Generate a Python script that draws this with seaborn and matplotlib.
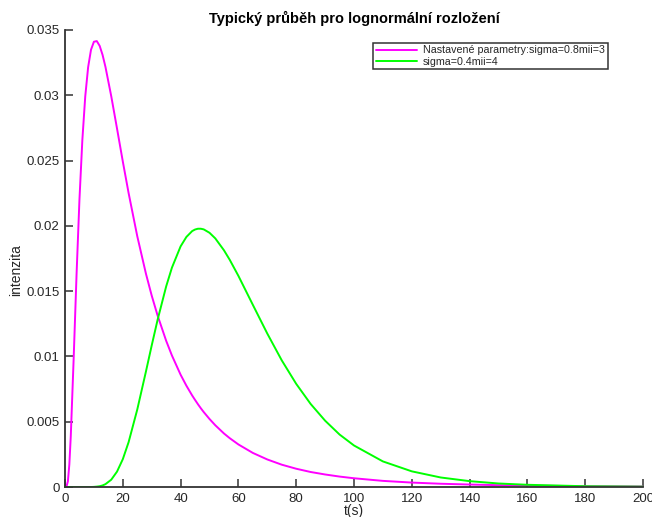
import matplotlib
matplotlib.use("Agg")
import matplotlib.pyplot as plt
import matplotlib.ticker as mticker
import seaborn as sns
import pandas as pd

# time axis (s)
t = [0, 0.5, 1, 1.5, 2, 3, 4, 5, 6, 7, 8, 9, 10, 11, 12, 13, 14, 16, 18, 20,
     22, 25, 28, 30, 32, 35, 37, 40, 42, 44, 45, 46, 47, 48, 50, 52, 55, 57, 60,
     65, 70, 75, 80, 85, 90, 95, 100, 110, 120, 130, 140, 150, 160, 180, 200]

# series 1: sigma=0.8, mii=3
intenzita_1 = [0, 0.0000235, 0.00044, 0.00173, 0.00390, 0.00986, 0.01630, 0.02202,
               0.02657, 0.02990, 0.03215, 0.03349, 0.03410, 0.03415, 0.03378, 0.03309,
               0.03217, 0.02993, 0.02745, 0.02493, 0.02252, 0.01921, 0.01634, 0.01466,
               0.01316, 0.01120, 0.01007, 0.00860, 0.00776, 0.00701, 0.00667, 0.00634,
               0.00603, 0.00574, 0.00521, 0.00473, 0.00410, 0.00374, 0.00326, 0.00261,
               0.00211, 0.00171, 0.00140, 0.00115, 0.00096, 0.00080, 0.00067, 0.00047,
               0.00034, 0.00025, 0.00019, 0.00014, 0.00011, 0.00006, 0.00004]

# series 2: sigma=0.4, mii=4
intenzita_2 = [0, 0, 0, 0, 0, 0, 0, 0, 0, 0, 0, 0, 0.00001, 0.00003, 0.00006, 0.00012,
               0.00022, 0.00056, 0.00118, 0.00213, 0.00343, 0.00593, 0.00884, 0.01084,
               0.01277, 0.01536, 0.01680, 0.01843, 0.01915, 0.01960, 0.01972, 0.01978,
               0.01978, 0.01973, 0.01947, 0.01904, 0.01813, 0.01740, 0.01617, 0.01395,
               0.01175, 0.00970, 0.00790, 0.00636, 0.00508, 0.00402, 0.00318, 0.00196,
               0.00120, 0.00073, 0.00045, 0.00027, 0.00017, 0.00006, 0.00003]

labels = ["Nastavené parametry:sigma=0.8mii=3", "sigma=0.4mii=4"]
colors = ["#FF00FF", "#00FF00"]

df = pd.concat([
    pd.DataFrame({"t": t, "y": intenzita_1, "serie": labels[0]}),
    pd.DataFrame({"t": t, "y": intenzita_2, "serie": labels[1]}),
], ignore_index=True)

sns.set_style("white")
plt.rcParams["font.family"] = ["Liberation Sans", "DejaVu Sans"]

fig = plt.figure(figsize=(6.52, 5.17), dpi=100)
ax = fig.add_axes([0.0997, 0.058, 0.8865, 0.884])

sns.lineplot(data=df, x="t", y="y", hue="serie", palette=colors, linewidth=1.4,
             ax=ax, sort=False, estimator=None)

ax.set_xlim(0, 200)
ax.set_ylim(0, 0.035)
ax.xaxis.set_major_locator(mticker.MultipleLocator(20))
ax.yaxis.set_major_locator(mticker.MultipleLocator(0.005))
ax.yaxis.set_major_formatter(mticker.FuncFormatter(
    lambda v, p: ("%.3f" % v).rstrip("0").rstrip(".") if abs(v) > 1e-12 else "0"))

for s in ["top", "right"]:
    ax.spines[s].set_visible(False)
for s in ["left", "bottom"]:
    ax.spines[s].set_color("#333333")
    ax.spines[s].set_linewidth(1.3)

ax.tick_params(direction="in", length=6, width=1.1, color="#333333",
               labelsize=9.5, labelcolor="#262626", pad=4, left=True, bottom=True)

ax.set_xlabel("t(s)", fontsize=10, color="#262626", labelpad=-0.5)
ax.set_ylabel("intenzita", fontsize=10, color="#262626")
ax.yaxis.set_label_coords(-0.073, 0.475)
ax.set_title("Typický průběh pro lognormální rozložení", fontsize=10.5,
             fontweight="bold", color="black", pad=5)

leg = ax.legend(loc="upper right", bbox_to_anchor=(0.939, 0.972), fontsize=7.7,
                frameon=True, fancybox=False, framealpha=1, handlelength=3.8,
                borderpad=0.25, labelspacing=0.1, handletextpad=0.6,
                borderaxespad=0, title=None)
leg.get_frame().set_edgecolor("#333333")
leg.get_frame().set_linewidth(1.1)

fig.savefig("out.png", dpi=100)
